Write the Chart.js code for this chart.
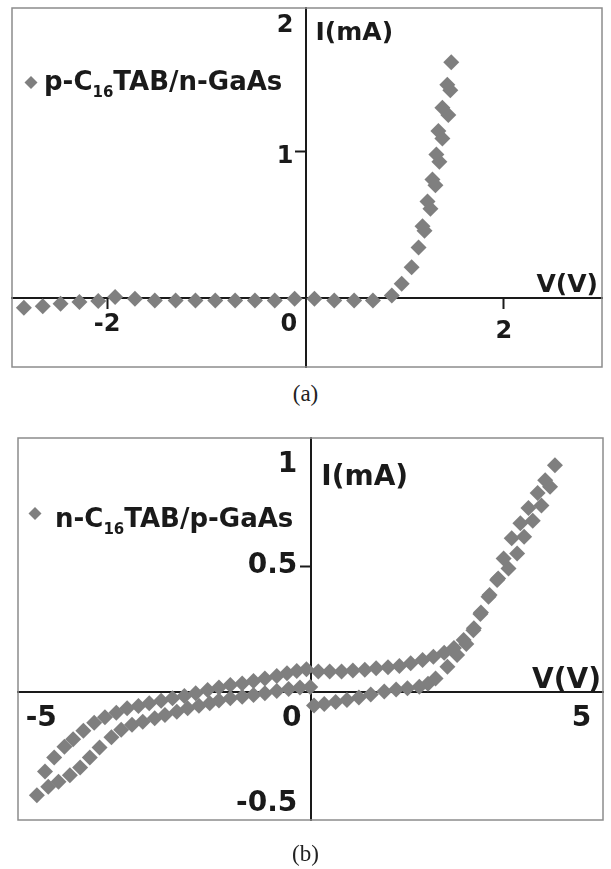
<!DOCTYPE html>
<html>
<head>
<meta charset="utf-8">
<script src="https://cdn.jsdelivr.net/npm/chart.js@4.4.0/dist/chart.umd.min.js"></script>
<style>
  html, body { margin: 0; padding: 0; background: #fff; }
  #page { position: relative; width: 611px; height: 869px; overflow: hidden; }
  .wrap { position: absolute; left: 0; width: 611px; }
  .cap { position: absolute; left: 0; width: 611px; text-align: center;
         font-family: "Liberation Serif", serif; font-size: 23px; color: #222; }
</style>
</head>
<body>
<div id="page">
  <div class="wrap" style="top:0;height:380px"><canvas id="chartA" width="611" height="380"></canvas></div>
  <div class="cap" style="top:381px">(a)</div>
  <div class="wrap" style="top:430px;height:439px"><canvas id="chartB" width="611" height="439"></canvas></div>
  <div class="cap" style="top:841px">(b)</div>
</div>
<script>
// (a) p-C16TAB/n-GaAs
const voltsA = [-2.84, -2.65, -2.47, -2.28, -2.09, -1.92, -1.72, -1.52, -1.31, -1.11, -0.91, -0.71, -0.51,
  -0.31, -0.11, 0.09, 0.29, 0.49, 0.68, 0.87, 0.97, 1.07, 1.14, 1.18, 1.20, 1.23, 1.26, 1.28, 1.31, 1.32,
  1.35, 1.34, 1.38, 1.38, 1.44, 1.43, 1.46, 1.47];
const currentA = [-0.066, -0.055, -0.039, -0.027, -0.02, 0.007, -0.005, -0.016, -0.016, -0.016, -0.016, -0.016, -0.016,
  -0.016, -0.005, -0.005, -0.016, -0.016, -0.016, 0.018, 0.098, 0.21, 0.345, 0.49, 0.46, 0.66, 0.61, 0.81, 0.77, 0.98,
  0.93, 1.14, 1.09, 1.30, 1.25, 1.457, 1.418, 1.61];
const xTicksA = [-2, 0, 2];
const xLabelsA = ['-2', '0', '2'];
const yTicksA = [1, 2];
const yLabelsA = ['1', '2'];

// (b) n-C16TAB/p-GaAs, two sweeps
const voltsUpperB = [-4.93, -4.76, -4.57, -4.41, -4.22, -4.02, -3.82, -3.61, -3.41, -3.20, -3.00, -2.78, -2.57,
  -2.35, -2.14, -1.92, -1.71, -1.50, -1.28, -1.07, -0.86, -0.64, -0.45, -0.27, -0.09, 0.13, 0.34, 0.56, 0.77,
  0.99, 1.20, 1.42, 1.63, 1.84, 2.06, 2.26, 2.46, 2.64, 2.82, 3.01, 3.14, 3.28, 3.44, 3.56, 3.71, 3.87, 4.02,
  4.19, 4.33, 4.51];
const currentUpperB = [-0.316, -0.26, -0.217, -0.188, -0.154, -0.122, -0.10, -0.082, -0.065, -0.056, -0.045, -0.035,
  -0.025, -0.016, -0.005, 0.008, 0.018, 0.028, 0.034, 0.044, 0.054, 0.063, 0.074, 0.083, 0.09, 0.081, 0.081, 0.081,
  0.085, 0.088, 0.094, 0.098, 0.103, 0.114, 0.127, 0.14, 0.156, 0.175, 0.206, 0.253, 0.315, 0.378, 0.444, 0.53,
  0.61, 0.67, 0.73, 0.79, 0.84, 0.90];
const voltsLowerB = [-5.08, -4.87, -4.68, -4.47, -4.28, -4.10, -3.92, -3.70, -3.52, -3.32, -3.12, -2.90, -2.71,
  -2.49, -2.29, -2.08, -1.88, -1.71, -1.50, -1.28, -1.07, -0.86, -0.64, -0.42, -0.21, -0.02, 0.05, 0.24, 0.45,
  0.66, 0.88, 1.10, 1.35, 1.57, 1.78, 2.00, 2.16, 2.30, 2.52, 2.70, 2.87, 3.00, 3.13, 3.30, 3.46, 3.65, 3.81,
  3.94, 4.10, 4.26, 4.42];
const currentLowerB = [-0.41, -0.376, -0.356, -0.33, -0.30, -0.26, -0.22, -0.18, -0.15, -0.13, -0.118, -0.104,
  -0.091, -0.078, -0.065, -0.055, -0.045, -0.034, -0.025, -0.019, -0.012, -0.005, 0.004, 0.012, 0.018, 0.02,
  -0.054, -0.048, -0.04, -0.032, -0.022, -0.01, 0.002, 0.01, 0.015, 0.021, 0.033, 0.054, 0.10, 0.147, 0.19,
  0.245, 0.31, 0.385, 0.45, 0.49, 0.55, 0.616, 0.68, 0.74, 0.815];
const xTicksB = [-5, 0, 5];
const xLabelsB = ['-5', '0', '5'];
const yTicksB = [-0.5, 0.5, 1];
const yLabelsB = ['-0.5', '0.5', '1'];

const FONT = '"DejaVu Sans", sans-serif';
const INK = '#1a1a1a';
const GREY = '#7f7f7f';

function toPoints(xs, ys) {
  return xs.map((v, i) => ({ x: v, y: ys[i] }));
}

function diamond(ctx, x, y, r) {
  ctx.beginPath();
  ctx.moveTo(x, y - r);
  ctx.lineTo(x + r, y);
  ctx.lineTo(x, y + r);
  ctx.lineTo(x - r, y);
  ctx.closePath();
  ctx.fill();
}

// axes sitting on the origin should not push the plot area around
function noPadding(s) {
  s.paddingTop = 0;
  s.paddingBottom = 0;
  s.paddingLeft = 0;
  s.paddingRight = 0;
}

// frame, axis titles and legend (with the subscript)
const decor = {
  id: 'decor',
  afterDraw(chart, args, o) {
    const ctx = chart.ctx;
    const a = chart.chartArea;
    const x0 = chart.scales.x.getPixelForValue(0);
    const y0 = chart.scales.y.getPixelForValue(0);
    ctx.save();
    ctx.strokeStyle = '#8c8c8c';
    ctx.lineWidth = 1.5;
    ctx.strokeRect(a.left, a.top, a.right - a.left, a.bottom - a.top);

    ctx.fillStyle = INK;
    ctx.textBaseline = 'alphabetic';
    ctx.font = 'bold ' + o.titleSize + 'px ' + FONT;
    ctx.textAlign = 'left';
    ctx.fillText('I(mA)', x0 + o.yTitle[0], a.top + o.yTitle[1]);
    ctx.textAlign = 'right';
    ctx.fillText('V(V)', a.right + o.xTitle[0], y0 + o.xTitle[1]);

    // legend
    const lg = o.legend;
    ctx.fillStyle = GREY;
    diamond(ctx, lg.x + lg.mark[0], lg.y + lg.mark[1], lg.r);
    ctx.fillStyle = INK;
    ctx.textAlign = 'left';
    let x = lg.x;
    lg.parts.forEach(p => {
      ctx.font = 'bold ' + (p.sub ? lg.subSize : lg.size) + 'px ' + FONT;
      ctx.fillText(p.t, x, lg.y + (p.sub ? 7 : 0));
      x += ctx.measureText(p.t).width;
    });
    ctx.restore();
  }
};

function makeChart(id, cfg) {
  const pad = '\u00a0'.repeat(cfg.zeroPad);
  const gap = '\u2002';
  const markColor = list => c => (c.tick && list.includes(c.tick.value)) ? INK : 'rgba(0,0,0,0)';
  return new Chart(document.getElementById(id), {
    type: 'scatter',
    data: {
      datasets: cfg.series.map(s => ({
        data: s,
        pointStyle: 'rectRot',
        pointRadius: cfg.radius,
        pointHoverRadius: cfg.radius,
        backgroundColor: GREY,
        borderWidth: 0
      }))
    },
    options: {
      responsive: false,
      animation: false,
      events: [],
      layout: { padding: cfg.padding },
      plugins: {
        legend: { display: false },
        tooltip: { enabled: false },
        decor: cfg.decor
      },
      scales: {
        x: {
          type: 'linear',
          position: { y: 0 },
          min: cfg.xMin, max: cfg.xMax,
          afterBuildTicks: s => { s.ticks = cfg.xTicks.map(v => ({ value: v })); },
          afterFit: noPadding,
          ticks: {
            autoSkip: false, maxRotation: 0, padding: 2, color: INK,
            callback: (v, i) => cfg.xLabels[i] + (v === 0 ? pad : ''),
            font: c => ({ family: FONT, size: cfg.tickSize, weight: 'bold',
              lineHeight: (cfg.xShift[c.index] || cfg.xLine) + 'px' })
          },
          grid: { drawOnChartArea: false, drawTicks: true, tickLength: 10, tickWidth: 2,
            tickColor: markColor(cfg.xMarks) },
          border: { display: true, color: INK, width: 2 }
        },
        y: {
          type: 'linear',
          position: { x: 0 },
          min: cfg.yMin, max: cfg.yMax,
          afterBuildTicks: s => { s.ticks = cfg.yTicks.map(v => ({ value: v })); },
          afterFit: noPadding,
          ticks: {
            autoSkip: false, padding: 2, color: INK,
            callback: (v, i) => {
              const sh = cfg.yShift[i] || 0;
              const lab = cfg.yLabels[i] + gap;
              if (sh > 0) return ['', lab];
              if (sh < 0) return [lab, ''];
              return lab;
            },
            font: c => ({ family: FONT, size: cfg.tickSize, weight: 'bold',
              lineHeight: (cfg.yShift[c.index] ? 2 * Math.abs(cfg.yShift[c.index]) : 30) + 'px' })
          },
          grid: { drawOnChartArea: false, drawTicks: true, tickLength: 10, tickWidth: 2,
            tickColor: markColor(cfg.yMarks) },
          border: { display: true, color: INK, width: 2 }
        }
      }
    },
    plugins: [decor]
  });
}

makeChart('chartA', {
  series: [toPoints(voltsA, currentA)],
  radius: 8,
  padding: { left: 12, top: 8, right: 9, bottom: 13 },
  xMin: -2.96, xMax: 2.99, yMin: -0.47, yMax: 1.98,
  xTicks: xTicksA, xLabels: xLabelsA, yTicks: yTicksA, yLabels: yLabelsA,
  xMarks: [-2, 2], yMarks: [1],
  tickSize: 24, xLine: 29, xShift: { 2: 43 }, yShift: { 0: 5, 1: 21 }, zeroPad: 4,
  decor: {
    titleSize: 25, yTitle: [10, 32], xTitle: [-4, -6],
    legend: { x: 44, y: 90, r: 6.5, mark: [-13, -7.5], size: 26, subSize: 15,
      parts: [{ t: 'p-C' }, { t: '16', sub: true }, { t: 'TAB/n-GaAs' }] }
  }
});

makeChart('chartB', {
  series: [toPoints(voltsUpperB, currentUpperB), toPoints(voltsLowerB, currentLowerB)],
  radius: 8,
  padding: { left: 18, top: 8, right: 4, bottom: 49 },
  xMin: -5.43, xMax: 5.40, yMin: -0.508, yMax: 1.008,
  xTicks: xTicksB, xLabels: xLabelsB, yTicks: yTicksB, yLabels: yLabelsB,
  xMarks: [], yMarks: [0.5],
  tickSize: 28, xLine: 30, xShift: {}, yShift: { 0: -14, 2: 25 }, zeroPad: 4,
  decor: {
    titleSize: 28, yTitle: [10, 47], xTitle: [-2, -4],
    legend: { x: 55, y: 97, r: 6.5, mark: [-20, -13.5], size: 26, subSize: 15,
      parts: [{ t: 'n-C' }, { t: '16', sub: true }, { t: 'TAB/p-GaAs' }] }
  }
});
</script>
</body>
</html>
